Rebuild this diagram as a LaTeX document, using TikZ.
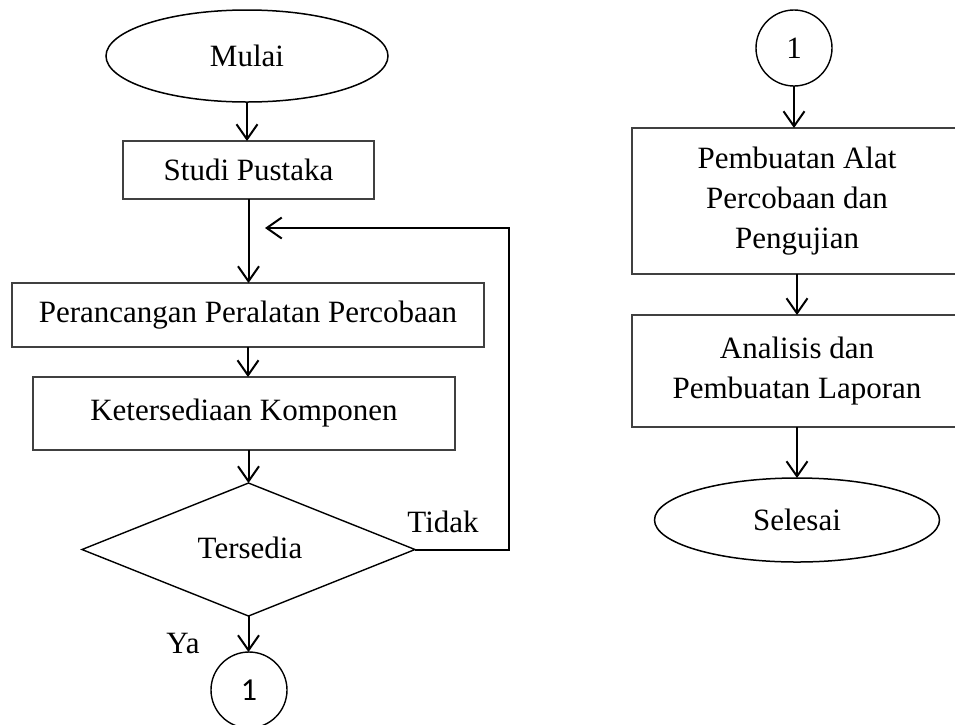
\documentclass[tikz,border=0pt]{standalone}
\usepackage{fontspec}
\setmainfont{Liberation Serif}
\newfontfamily\sansone{Carlito}
\usetikzlibrary{shapes.geometric,arrows.meta}
\begin{document}
\begin{tikzpicture}[x=1pt,y=-1pt,
  every node/.style={font=\fontsize{31}{40}\selectfont, inner sep=0pt, outer sep=0pt, align=center},
  procbox/.style={draw=black!75, line width=1.3pt, rectangle},
  term/.style={draw=black, line width=1.5pt, ellipse},
  decis/.style={draw=black, line width=1.4pt, diamond},
  conn/.style={draw=black, line width=1.4pt, circle, minimum size=76pt},
  flow/.style={draw=black, line width=2pt, -{Straight Barb[length=15pt,width=21pt,line width=2pt]}},
  lbl/.style={}
]
\useasboundingbox (0,0) rectangle (955,724);
\clip (0,0) rectangle (955,724);
\fill[white] (0,0) rectangle (955,724);

% left column
\node[term, minimum width=282pt, minimum height=92pt] (mulai) at (247,56) {Mulai};
\node[procbox, minimum width=251pt, minimum height=58pt] (studi) at (248.5,170) {Studi Pustaka};
\node[procbox, minimum width=472pt, minimum height=64pt] (peran) at (248,315) {Perancangan Peralatan Percobaan};
\node[procbox, minimum width=422pt, minimum height=73pt] (keter) at (244,413.5) {Ketersediaan Komponen};
\node[decis, minimum width=333pt, minimum height=133pt] (dia) at (248.5,549.5) {};
\node (tersedia) at (250,548) {Tersedia};
\node[conn] (c1) at (249,690) {\sansone\fontsize{32}{36}\selectfont 1};
\node[lbl] (tidak) at (443,522) {Tidak};
\node[lbl] (ya) at (183,643) {Ya};

% right column
\node[conn] (c2) at (794,48) {1};
\node[procbox, minimum width=330pt, minimum height=146pt] (pemb) at (797,201) {Pembuatan Alat\\Percobaan dan\\Pengujian};
\node[procbox, minimum width=330pt, minimum height=112pt] (anal) at (797,371) {Analisis dan\\Pembuatan Laporan};
\node[term, minimum width=285pt, minimum height=84pt] (selesai) at (797,520) {Selesai};

% connectors
\draw[flow] (mulai.south) -- (mulai.south |- studi.north);
\draw[flow] (studi.south) -- (studi.south |- peran.north);
\draw[flow] (peran.south) -- (peran.south |- keter.north);
\draw[flow] (keter.south -| dia.north) -- (dia.north);
\draw[flow] (dia.south) -- (dia.south |- c1.north);
\coordinate (fbcorner) at (509,228);
\coordinate (fbend) at (265,228);
\draw[flow] (dia.east) -- (dia.east -| fbcorner) -- (fbcorner) -- (fbend);

\draw[flow] (c2.south) -- (c2.south |- pemb.north);
\draw[flow] (pemb.south) -- (anal.north);
\draw[flow] (anal.south) -- (selesai.north);
\end{tikzpicture}
\end{document}
